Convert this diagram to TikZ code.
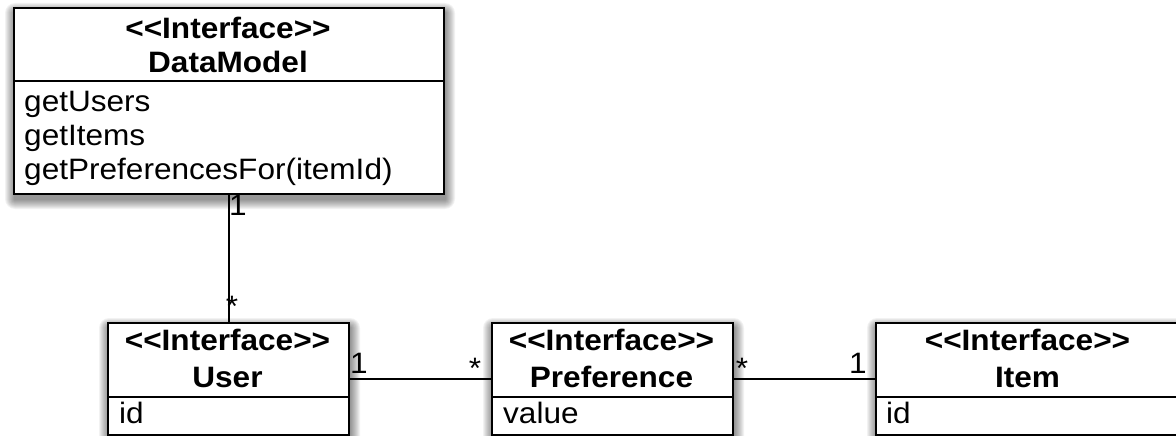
\documentclass[tikz,border=0pt]{standalone}
\usepackage{fontspec}
\newfontfamily\uml{Liberation Sans}[FakeStretch=1.07]
\newcommand\boxshadow[4]{%
  \foreach \i in {1,...,10}{%
    \fill[black,opacity=0.05,rounded corners=\i pt] (#1+2-\i,#2+6-\i) rectangle (#3+2+\i,#4+6+\i);}}
\begin{document}
\begin{tikzpicture}[x=1pt,y=-1pt,
  every node/.style={font=\uml\fontsize{29.5}{34}\selectfont, inner sep=0pt},
  classbox/.style={draw, line width=2.4pt, fill=white, anchor=north west, inner sep=0pt},
  divider/.style={line width=2.4pt},
  stereo/.style={anchor=base, font=\uml\bfseries\fontsize{29.5}{34}\selectfont},
  attr/.style={anchor=base west},
  mult/.style={anchor=base},
  assoc/.style={line width=2.2pt}]
\useasboundingbox (0,0) rectangle (1176,436);
\clip (0,0) rectangle (1176,436);

% shadows
\boxshadow{13}{7}{443}{193}
\boxshadow{107}{322}{348}{434}
\boxshadow{491}{322}{732}{434}
\boxshadow{875}{322}{1180}{434}

% DataModel
\node[classbox, minimum width=430pt, minimum height=186pt] (dm) at (13,7) {};
\draw[divider] (dm.west |- 0,81) -- (dm.east |- 0,81);
\node[stereo] (dmStereo) at (228,39) {<<Interface>>};
\node[stereo] (dmName) at (228,73) {DataModel};
\node[attr] (dmA1) at (24,111) {getUsers};
\node[attr] (dmA2) at (24,145) {getItems};
\node[attr] (dmA3) at (24,179) {getPreferencesFor(itemId)};

% User
\node[classbox, minimum width=241pt, minimum height=112pt] (user) at (107,322) {};
\draw[divider] (user.west |- 0,397) -- (user.east |- 0,397);
\node[stereo] (userStereo) at (227.5,350) {<<Interface>>};
\node[stereo] (userName) at (227.5,387) {User};
\node[attr] (userA1) at (119,423) {id};

% Preference
\node[classbox, minimum width=241pt, minimum height=112pt] (pref) at (491,322) {};
\draw[divider] (pref.west |- 0,397) -- (pref.east |- 0,397);
\node[stereo] (prefStereo) at (611.5,350) {<<Interface>>};
\node[stereo] (prefName) at (611.5,387) {Preference};
\node[attr] (prefA1) at (503,423) {value};

% Item
\node[classbox, minimum width=305pt, minimum height=112pt] (item) at (875,322) {};
\draw[divider] (item.west |- 0,397) -- (item.east |- 0,397);
\node[stereo] (itemStereo) at (1027.5,350) {<<Interface>>};
\node[stereo] (itemName) at (1027.5,387) {Item};
\node[attr] (itemA1) at (886,423) {id};

% associations
\draw[assoc] (user.north |- dm.south) -- (user.north);
\draw[assoc] (user.east) -- (pref.west);
\draw[assoc] (pref.east) -- (item.west);

% multiplicities
\node[mult] (m1) at (238,215) {1};
\node[mult] (m2) at (232,316) {*};
\node[mult] (m3) at (359,373) {1};
\node[mult] (m4) at (475,378) {*};
\node[mult] (m5) at (742,378) {*};
\node[mult] (m6) at (858,373) {1};
\end{tikzpicture}
\end{document}
